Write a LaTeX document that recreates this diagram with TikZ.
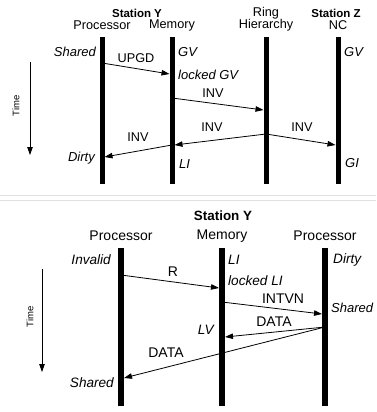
\documentclass[tikz,border=0pt]{standalone}
\usepackage{fontspec}
\setmainfont{Liberation Sans}
\usetikzlibrary{arrows.meta}
\begin{document}
\begin{tikzpicture}[x=1pt,y=-1pt,
  bar/.style={line width=5pt},
  barb/.style={line width=6pt},
  msg/.style={line width=0.8pt,-{Triangle[length=8pt,width=5.5pt]}},
  timearrow/.style={line width=0.8pt,-{Triangle[length=8pt,width=5.5pt]}},
  ft/.style={font=\fontsize{12.7}{14}\selectfont,inner sep=0pt},
  fb/.style={font=\fontsize{14}{16}\selectfont,inner sep=0pt},
  hd/.style={font=\bfseries\fontsize{11.5}{14}\selectfont,inner sep=0pt},
  hdb/.style={font=\bfseries\fontsize{13.4}{16}\selectfont,inner sep=0pt},
  it/.style={font=\itshape\fontsize{13}{15}\selectfont,inner sep=0pt},
  itb/.style={font=\itshape\fontsize{13.6}{16}\selectfont,inner sep=0pt},
  tm/.style={font=\fontsize{9.5}{10}\selectfont,inner sep=0pt,rotate=90},
  sep/.style={draw=black!12,line width=0.8pt}]
\useasboundingbox (0,0) rectangle (376,412);
\fill[white] (0,0) rectangle (376,412);
% separators
\coordinate (s1a) at (0,195); \coordinate (s1b) at (376,195);
\coordinate (s2a) at (0,200); \coordinate (s2b) at (376,200);
\draw[sep] (s1a) -- (s1b);
\draw[sep] (s2a) -- (s2b);

% ===== Top panel =====
\node[hd] (hY) at (137,13) {Station Y};
\node[ft] (hP) at (102,25) {Processor};
\node[ft] (hM) at (172,25) {Memory};
\node[ft] (hR1) at (266,13) {Ring};
\node[ft] (hR2) at (266,25) {Hierarchy};
\node[hd] (hZ) at (336,13) {Station Z};
\node[ft] (hN) at (338,25) {NC};

\coordinate (Pt) at (102,37); \coordinate (Pb) at (102,184);
\coordinate (Mt) at (172,37); \coordinate (Mb) at (172,184);
\coordinate (Rt) at (266,37); \coordinate (Rb) at (266,184);
\coordinate (Nt) at (338,37); \coordinate (Nb) at (338,184);
\draw[bar] (Pt) -- (Pb);
\draw[bar] (Mt) -- (Mb);
\draw[bar] (Rt) -- (Rb);
\draw[bar] (Nt) -- (Nb);

\coordinate (a1s) at (102,63); \coordinate (a1e) at (169.5,74);
\coordinate (a2s) at (172,98); \coordinate (a2e) at (263.5,110);
\coordinate (a3s) at (266,134); \coordinate (a3e) at (174.5,145);
\coordinate (a4e) at (335.5,145);
\coordinate (a5s) at (172,145); \coordinate (a5e) at (104.5,157);
\draw[msg] (a1s) -- (a1e);
\draw[msg] (a2s) -- (a2e);
\draw[msg] (a3s) -- (a3e);
\draw[msg] (a3s) -- (a4e);
\draw[msg] (a5s) -- (a5e);

\node[ft] (lUPGD) at (136,58) {UPGD};
\node[ft] (lINV1) at (213,93) {INV};
\node[ft] (lINV2) at (212,127) {INV};
\node[ft] (lINV3) at (302,127) {INV};
\node[ft] (lINV4) at (138,137) {INV};

\node[it,anchor=east] (sShared) at (96,52) {Shared};
\node[it,anchor=west] (sGV1) at (178,52) {GV};
\node[it,anchor=west] (sGV2) at (344,52) {GV};
\node[it,anchor=west] (sLGV) at (178,75) {locked GV};
\node[it,anchor=east] (sDirty) at (95,158) {Dirty};
\node[it,anchor=west] (sLI) at (179,164) {LI};
\node[it,anchor=west] (sGI) at (345,163) {GI};

\coordinate (t1s) at (30,62); \coordinate (t1e) at (30,155);
\draw[timearrow] (t1s) -- (t1e);
\node[tm] (time1) at (16,106) {Time};

% ===== Bottom panel =====
\node[hdb] (bY) at (223,216) {Station Y};
\node[fb] (bP1) at (121,236) {Processor};
\node[fb] (bM) at (222,236) {Memory};
\node[fb] (bP2) at (325,236) {Processor};

\coordinate (Qt) at (121,248); \coordinate (Qb) at (121,406);
\coordinate (Wt) at (222,248); \coordinate (Wb) at (222,406);
\coordinate (Ut) at (325,248); \coordinate (Ub) at (325,406);
\draw[barb] (Qt) -- (Qb);
\draw[barb] (Wt) -- (Wb);
\draw[barb] (Ut) -- (Ub);

\coordinate (b1s) at (121,275); \coordinate (b1e) at (219,288);
\coordinate (b2s) at (222,302); \coordinate (b2e) at (322,314);
\coordinate (b3s) at (325,327); \coordinate (b3e) at (225,337);
\coordinate (b4e) at (124,378);
\draw[msg] (b1s) -- (b1e);
\draw[msg] (b2s) -- (b2e);
\draw[msg] (b3s) -- (b3e);
\draw[msg] (b3s) -- (b4e);

\node[fb] (lR) at (173,272) {R};
\node[fb] (lINTVN) at (283,299) {INTVN};
\node[fb] (lDATA1) at (274,322) {DATA};
\node[fb] (lDATA2) at (166,353) {DATA};

\node[itb,anchor=east] (tInvalid) at (111,260) {Invalid};
\node[itb,anchor=west] (tLI) at (228,260) {LI};
\node[itb,anchor=west] (tDirty) at (333,260) {Dirty};
\node[itb,anchor=west] (tLLI) at (228,281) {locked LI};
\node[it,anchor=west] (tShared2) at (331,308) {Shared};
\node[itb,anchor=east] (tLV) at (214,330) {LV};
\node[itb,anchor=east] (tShared1) at (114,383) {Shared};

\coordinate (t2s) at (42,269); \coordinate (t2e) at (42,372);
\draw[timearrow] (t2s) -- (t2e);
\node[tm] (time2) at (30,317) {Time};
\end{tikzpicture}
\end{document}
